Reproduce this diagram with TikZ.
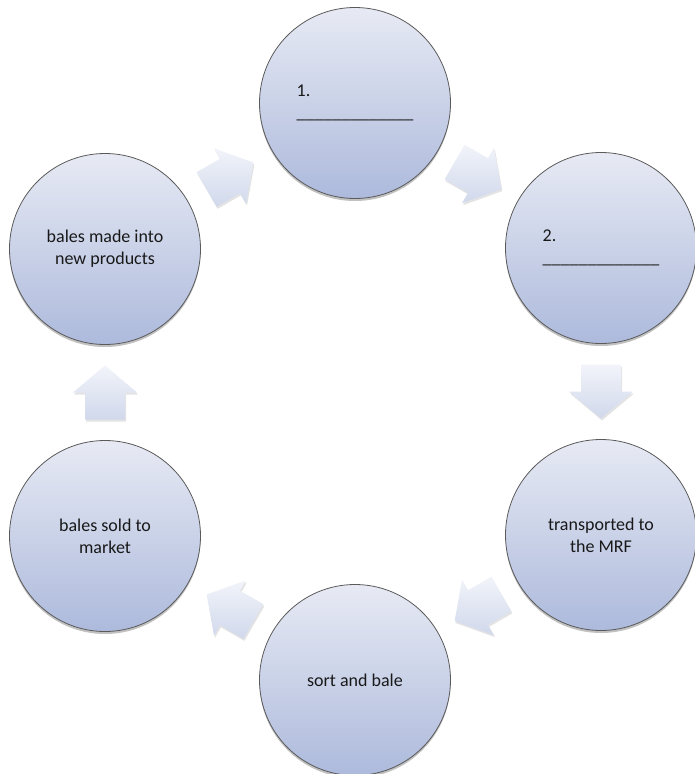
\documentclass[tikz,border=0pt]{standalone}
\usepackage{fontspec}
\setmainfont{Carlito}
\usetikzlibrary{shadows,calc}
\definecolor{circtop}{HTML}{E7EAF4}
\definecolor{circbot}{HTML}{ADBADC}
\definecolor{arrtop}{HTML}{F2F4FA}
\definecolor{arrbot}{HTML}{D0D8EB}
\definecolor{rim}{HTML}{5A5A5A}
\begin{document}
\begin{tikzpicture}[x=1pt,y=-1pt,
  stage/.style={circle, minimum size=191pt, inner sep=0pt, draw=rim, line width=0.8pt,
    top color=circtop, bottom color=circbot,
    drop shadow={shadow xshift=0pt, shadow yshift=-2.5pt, opacity=0.35, fill=black!70},
    font=\fontsize{18}{22}\selectfont, align=center, text=black!90},
  cyclearrow/.style={top color=arrtop, bottom color=arrbot, draw=none,
    drop shadow={shadow xshift=1pt, shadow yshift=-2pt, opacity=0.18, fill=black!60}}]
\useasboundingbox (0,0) rectangle (694,774);
% stages
\node[stage, align=left] (s1) at (355,103) {1.\\\_\_\_\_\_\_\_\_\_\_\_\_\_};
\node[stage, align=left] (s2) at (601,248) {2.\\\_\_\_\_\_\_\_\_\_\_\_\_\_};
\node[stage] (s3) at (601,535) {transported to\\the MRF};
\node[stage] (s4) at (355,680) {sort and bale};
\node[stage] (s5) at (105,536) {bales sold to\\market};
\node[stage] (s6) at (105,249) {bales made into\\new products};
% block arrows between stages
\foreach \a/\b/\ang in {s6/s1/30, s1/s2/-30, s2/s3/-90, s3/s4/-150, s4/s5/150, s5/s6/90}{
  \path[cyclearrow, shift={($(\a)!0.5!(\b)$)}, rotate=\ang]
    (-27,-20) -- (0,-20) -- (0,-32) -- (27,0) -- (0,32) -- (0,20) -- (-27,20) -- cycle;
}
\end{tikzpicture}
\end{document}
